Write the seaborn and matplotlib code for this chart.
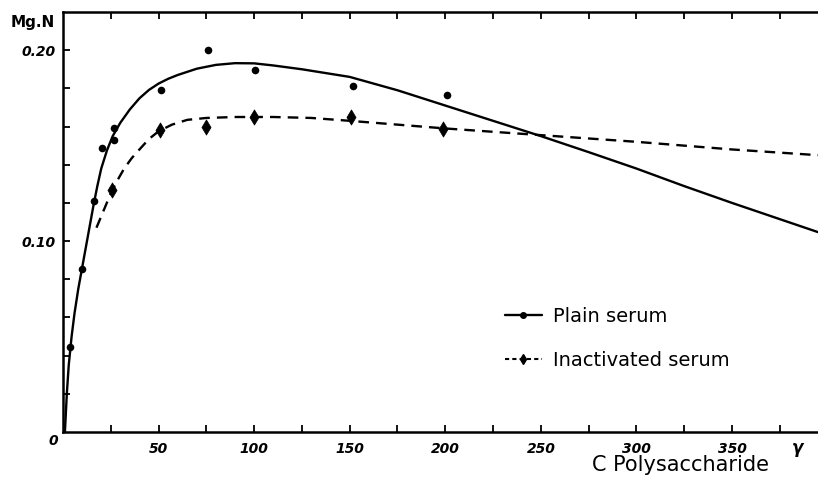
import matplotlib
matplotlib.use("Agg")
import matplotlib.pyplot as plt
import seaborn as sns
import pandas as pd
from matplotlib.lines import Line2D

# ---- data ----
plain_x = [3.8, 10.2, 16.0, 20.2, 26.5, 26.5, 51.2, 76.0, 100.7, 151.5, 201.0]
plain_y = [0.0446, 0.0852, 0.121, 0.149, 0.159, 0.153, 0.179, 0.200, 0.1895, 0.1815, 0.1765]

inact_x = [25.4, 50.8, 74.6, 99.8, 150.6, 198.6]
inact_y = [0.1265, 0.158, 0.160, 0.165, 0.165, 0.1585]

plain_curve_x = [1, 2, 3, 4.5, 6, 8, 10, 12, 14, 16, 18, 20, 23, 26, 30, 35, 40, 45, 50,
                 55, 60, 70, 80, 90, 100, 110, 125, 150, 175, 200, 225, 250, 275, 300,
                 325, 350, 375, 395]
plain_curve_y = [0.0, 0.02, 0.035, 0.05, 0.062, 0.075, 0.086, 0.097, 0.108, 0.119, 0.129,
                 0.138, 0.1475, 0.155, 0.162, 0.169, 0.1748, 0.1792, 0.1825, 0.185, 0.187,
                 0.1903, 0.1923, 0.1932, 0.1931, 0.192, 0.190, 0.186, 0.179, 0.171, 0.163,
                 0.155, 0.1466, 0.138, 0.1288, 0.120, 0.1115, 0.1047]

inact_curve_x = [17.5, 20, 22.5, 25, 28, 32, 36, 40, 45, 50, 57, 65, 75, 90, 110, 130,
                 150, 175, 200, 250, 300, 350, 395]
inact_curve_y = [0.107, 0.113, 0.119, 0.125, 0.131, 0.138, 0.1435, 0.148, 0.1535, 0.1575,
                 0.161, 0.1635, 0.1645, 0.165, 0.165, 0.1645, 0.163, 0.161, 0.159,
                 0.1555, 0.152, 0.148, 0.145]

x_ticks = [25, 50, 75, 100, 125, 150, 175, 200, 225, 250, 275, 300, 325, 350, 375]
x_labels = ["", "50", "", "100", "", "150", "", "200", "", "250", "", "300", "", "350", ""]
y_ticks = [0.02, 0.04, 0.06, 0.08, 0.10, 0.12, 0.14, 0.16, 0.18, 0.20]
y_labels = ["", "", "", "", "0.10", "", "", "", "", "0.20"]

legend_labels = ["Plain serum", "Inactivated serum"]

# ---- plot ----
sns.set_style("ticks")
plt.rcParams["font.family"] = ["DejaVu Sans"]
plt.rcParams["text.color"] = "black"
plt.rcParams["xtick.color"] = "black"
plt.rcParams["ytick.color"] = "black"
plt.rcParams["xtick.labelcolor"] = "black"
plt.rcParams["ytick.labelcolor"] = "black"

fig = plt.figure(figsize=(8.18, 4.83), dpi=100)
ax = fig.add_axes([63 / 818, 51 / 483, 1 - 63 / 818, 420 / 483])

pc = pd.DataFrame({"x": plain_curve_x, "y": plain_curve_y})
ic = pd.DataFrame({"x": inact_curve_x, "y": inact_curve_y})
sns.lineplot(data=pc, x="x", y="y", sort=False, estimator=None, color="black",
             linewidth=1.7, ax=ax)
sns.lineplot(data=ic, x="x", y="y", sort=False, estimator=None, color="black",
             linewidth=1.7, ax=ax, linestyle=(0, (4.5, 3)))

pp = pd.DataFrame({"x": plain_x, "y": plain_y})
ip = pd.DataFrame({"x": inact_x, "y": inact_y})
sns.scatterplot(data=pp, x="x", y="y", color="black", marker="o", s=30,
                edgecolor="black", linewidth=0, ax=ax)
sns.scatterplot(data=ip, x="x", y="y", color="black", marker="d", s=60,
                edgecolor="black", linewidth=0.5, ax=ax)

ax.set_xlim(0, 395)
ax.set_ylim(0, 0.22)
ax.set_xlabel("")
ax.set_ylabel("")

ax.set_xticks(x_ticks)
ax.set_xticklabels(x_labels, fontsize=10, fontweight="bold", fontstyle="italic")
ax.set_yticks(y_ticks)
ax.set_yticklabels(y_labels, fontsize=10, fontweight="bold", fontstyle="italic")
ax.tick_params(axis="x", direction="in", length=5, width=1.3, top=True, pad=7)
ax.tick_params(axis="y", direction="in", length=5, width=1.3, pad=5)

for side in ["left", "bottom", "top"]:
    ax.spines[side].set_linewidth(1.8)
    ax.spines[side].set_color("black")
ax.spines["right"].set_visible(False)

# corner / unit labels
ax.annotate("0", xy=(0, 0), xytext=(-10, -9), textcoords="offset pixels",
            ha="center", va="center", fontsize=10, fontweight="bold", fontstyle="italic")
ax.annotate("γ", xy=(384.5, 0), xytext=(0, -16), textcoords="offset pixels",
            ha="center", va="center", fontsize=12, fontweight="bold", fontstyle="italic")
fig.text(33 / 818, 1 - 22 / 483, "Mg.N", ha="center", va="center",
         fontsize=11, fontweight="bold")
fig.text(681 / 818, 1 - 465 / 483, "C Polysaccharide", ha="center", va="center",
         fontsize=15)

handles = [
    Line2D([], [], color="black", linewidth=1.7, marker="o", markersize=4),
    Line2D([], [], color="black", linewidth=1.5, linestyle=(0, (2, 1.5)),
           marker="d", markersize=5),
]
leg = ax.legend(handles, legend_labels, loc="upper left",
                bbox_to_anchor=((505 - 63) / 755, (432 - 307) / 420),
                frameon=False, fontsize=14, handlelength=1.9, handletextpad=0.55,
                labelspacing=1.3, borderpad=0, borderaxespad=0)

fig.savefig("out.png", dpi=100)
